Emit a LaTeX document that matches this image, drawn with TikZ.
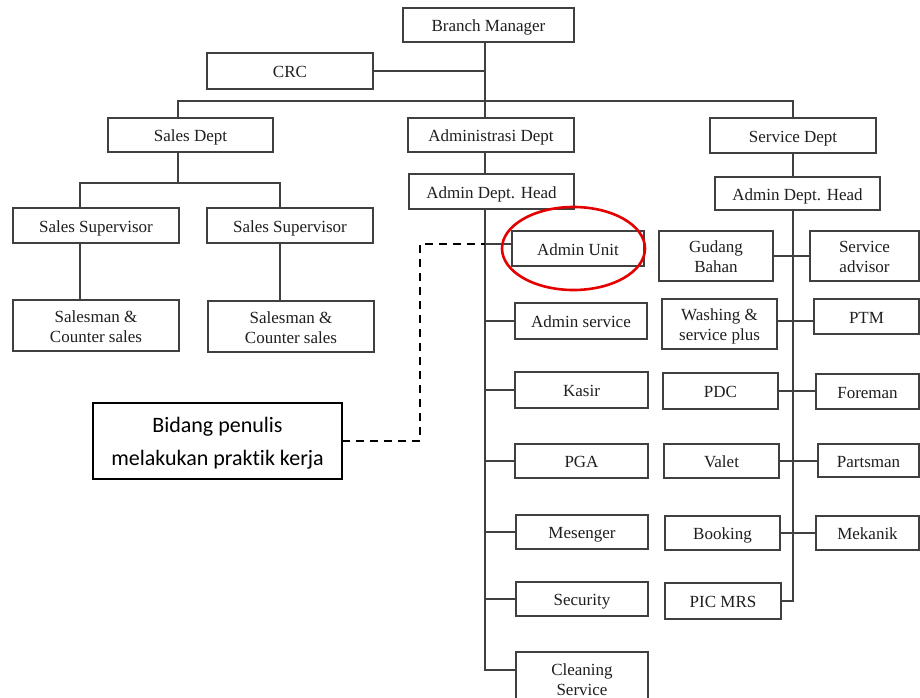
\documentclass[tikz,border=0pt]{standalone}
\usepackage{fontspec}
\setmainfont{Liberation Serif}
\newfontfamily\carl[Ligatures=NoCommon]{Carlito}
\usetikzlibrary{calc,shapes.geometric}
\tikzset{
  box/.style={draw=black!75, line width=1.5pt, inner sep=0pt, outer sep=0pt,
    anchor=north west, align=center, text=black!88,
    font=\fontsize{17}{20}\selectfont},
  ln/.style={draw=black!75, line width=1.6pt},
  dashln/.style={draw=black, line width=1.9pt, dash pattern=on 8pt off 6pt},
  notebox/.style={draw=black, line width=1.4pt, inner sep=0pt, outer sep=0pt,
    anchor=north west, align=center, text=black,
    font=\carl\fontsize{22}{33}\selectfont},
  ring/.style={draw=red!90!black, line width=2.6pt}
}
\newcommand\bx[6]{\node[box,minimum width={(#4-(#2))*1pt},minimum height={(#5-(#3))*1pt}] (#1) at (#2,#3) {\raisebox{-2.5pt}[\height][\depth]{\begin{tabular}[t]{@{}c@{}}#6\end{tabular}}};}
\begin{document}
\begin{tikzpicture}[x=1pt,y=-1pt]
\useasboundingbox[fill=white] (0,0) rectangle (920,698);
\clip (0,0) rectangle (920,698);
% top
\bx{bm}{403}{8}{574}{42}{Branch Manager}
\bx{crc}{207}{53}{373}{89}{CRC}
\bx{sd}{108}{118}{273}{152}{Sales Dept}
\bx{ad}{408}{118}{574}{152}{Administrasi Dept}
\bx{svd}{710}{118}{876}{153}{Service Dept}
\bx{adh1}{409}{174}{574}{209}{Admin Dept. Head}
\bx{adh2}{715}{177}{880}{210}{Admin Dept. Head}
% sales
\bx{ss1}{13}{208}{179}{243}{Sales Supervisor}
\bx{ss2}{207}{208}{373}{243}{Sales Supervisor}
\bx{sm1}{13}{300}{179}{351}{Salesman \&\\Counter sales}
\bx{sm2}{208}{301}{374}{352}{Salesman \&\\Counter sales}
% admin column
\bx{au}{512}{231}{644}{266}{Admin Unit}
\bx{as}{515}{303}{647}{339}{Admin service}
\bx{ks}{515}{372}{648}{408}{Kasir}
\bx{pga}{515}{444}{648}{478}{PGA}
\bx{ms}{516}{515}{648}{549}{Mesenger}
\bx{sec}{516}{582}{648}{616}{Security}
\bx{cs}{516}{652}{648}{705}{Cleaning\\Service}
% service left column
\bx{gb}{659}{231}{773}{281}{Gudang\\Bahan}
\bx{ws}{662}{299}{777}{349}{Washing \&\\service plus}
\bx{pdc}{663}{373}{778}{409}{PDC}
\bx{val}{664}{444}{779}{478}{Valet}
\bx{bk}{665}{516}{780}{550}{Booking}
\bx{pic}{665}{583}{781}{619}{PIC MRS}
% service right column
\bx{sa}{810}{231}{919}{281}{Service\\advisor}
\bx{ptm}{814}{299}{919}{334}{PTM}
\bx{fm}{816}{374}{919}{409}{Foreman}
\bx{pm}{818}{444}{919}{477}{Partsman}
\bx{mk}{816}{516}{919}{550}{Mekanik}
% note
\node[notebox,minimum width=249pt,minimum height=76pt] (note) at (93,403) {\raisebox{-1.5pt}[\height][\depth]{\begin{tabular}[t]{@{}c@{}}Bidang penulis\\melakukan praktik kerja\end{tabular}}};
% trunk coordinates
\coordinate (tL) at (485,0);
\coordinate (tR) at (793,0);
\coordinate (tS) at (178,0);
\coordinate (s1) at (80,0);
\coordinate (s2) at (280,0);
\coordinate (bus) at (0,101);
\coordinate (sbus) at (0,183);
\coordinate (dc) at (420,244);
% connectors top
\draw[ln] (bm.south -| tL) -- (ad.north -| tL);
\draw[ln] (crc.east) -- (crc.east -| tL);
\draw[ln] (sd.north -| tS) -- (bus -| tS) -- (bus -| tR) -- (svd.north -| tR);
\draw[ln] (ad.south -| tL) -- (adh1.north -| tL);
\draw[ln] (svd.south -| tR) -- (adh2.north -| tR);
% sales
\draw[ln] (sd.south -| tS) -- (sbus -| tS);
\draw[ln] (ss1.north -| s1) |- (sbus -| s2) -- (ss2.north -| s2);
\draw[ln] (ss1.south -| s1) -- (sm1.north -| s1);
\draw[ln] (ss2.south -| s2) -- (sm2.north -| s2);
% admin trunk
\draw[ln] (adh1.south -| tL) |- ([yshift=8.5pt]cs.west);
\draw[ln] ([yshift=4.5pt]au.west) -- ([yshift=4.5pt]au.west -| tL);
\draw[ln] (as.west) -- (as.west -| tL);
\draw[ln] (ks.west) -- (ks.west -| tL);
\draw[ln] (pga.west) -- (pga.west -| tL);
\draw[ln] (ms.west) -- (ms.west -| tL);
\draw[ln] (sec.west) -- (sec.west -| tL);
% service trunk
\draw[ln] (adh2.south -| tR) |- (pic.east);
\draw[ln] (gb.east) -- (gb.east -| sa.west);
\draw[ln] ([yshift=3pt]ws.east) -- ([yshift=3pt]ws.east -| ptm.west);
\draw[ln] (pdc.east) -- (pdc.east -| fm.west);
\draw[ln] (val.east) -- (val.east -| pm.west);
\draw[ln] (bk.east) -- (bk.east -| mk.west);
% dashed pointer
\draw[dashln] (note.east) -| (dc) -- (dc -| tL);
% red ring
\node[ring, ellipse, draw, minimum width=143pt, minimum height=83pt, inner sep=0pt] (ring) at (573.5,248.5) {};
\end{tikzpicture}
\end{document}
